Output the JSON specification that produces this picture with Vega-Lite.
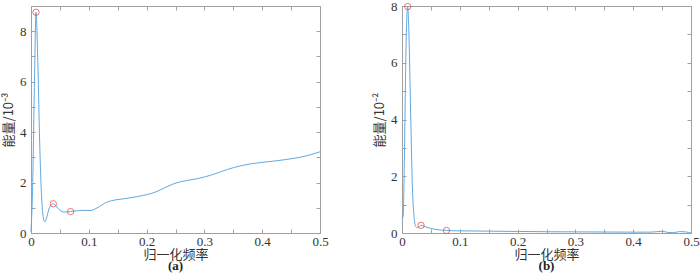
{
  "$schema": "https://vega.github.io/schema/vega-lite/v6.json",
  "padding": {"left": 2, "top": -1, "right": 5, "bottom": 0},
  "background": "white",
  "datasets": {
    "a": [
      {"f": 0, "e": 0.05}, {"f": 0.003, "e": 2.0}, {"f": 0.006, "e": 6.0}, {"f": 0.0087, "e": 8.75},
      {"f": 0.012, "e": 6.6}, {"f": 0.015, "e": 3.6}, {"f": 0.018, "e": 1.6}, {"f": 0.021, "e": 0.65},
      {"f": 0.024, "e": 0.44}, {"f": 0.027, "e": 0.6}, {"f": 0.031, "e": 0.95}, {"f": 0.035, "e": 1.12},
      {"f": 0.0386, "e": 1.16}, {"f": 0.043, "e": 1.08}, {"f": 0.05, "e": 0.9}, {"f": 0.057, "e": 0.83},
      {"f": 0.0686, "e": 0.85}, {"f": 0.082, "e": 0.89}, {"f": 0.09, "e": 0.9}, {"f": 0.102, "e": 0.89},
      {"f": 0.114, "e": 0.99}, {"f": 0.131, "e": 1.22}, {"f": 0.148, "e": 1.32}, {"f": 0.165, "e": 1.37},
      {"f": 0.183, "e": 1.44}, {"f": 0.2, "e": 1.52}, {"f": 0.215, "e": 1.62}, {"f": 0.232, "e": 1.8},
      {"f": 0.249, "e": 1.97}, {"f": 0.269, "e": 2.08}, {"f": 0.285, "e": 2.14}, {"f": 0.3, "e": 2.22},
      {"f": 0.32, "e": 2.36}, {"f": 0.34, "e": 2.52}, {"f": 0.36, "e": 2.65}, {"f": 0.38, "e": 2.74},
      {"f": 0.4, "e": 2.8}, {"f": 0.42, "e": 2.85}, {"f": 0.44, "e": 2.91}, {"f": 0.46, "e": 2.98},
      {"f": 0.48, "e": 3.08}, {"f": 0.5, "e": 3.22}
    ],
    "aPeaks": [
      {"f": 0.0087, "e": 8.75}, {"f": 0.0386, "e": 1.16}, {"f": 0.0686, "e": 0.85}
    ],
    "b": [
      {"f": 0, "e": 0.5}, {"f": 0.002, "e": 0.6}, {"f": 0.004, "e": 2.5}, {"f": 0.007, "e": 6.6},
      {"f": 0.0099, "e": 7.98}, {"f": 0.012, "e": 7.0}, {"f": 0.015, "e": 4.2}, {"f": 0.018, "e": 1.6},
      {"f": 0.021, "e": 0.55}, {"f": 0.024, "e": 0.22}, {"f": 0.027, "e": 0.19}, {"f": 0.033, "e": 0.27},
      {"f": 0.04, "e": 0.22}, {"f": 0.05, "e": 0.16}, {"f": 0.06, "e": 0.12}, {"f": 0.077, "e": 0.09},
      {"f": 0.1, "e": 0.075}, {"f": 0.15, "e": 0.065}, {"f": 0.2, "e": 0.055}, {"f": 0.25, "e": 0.045},
      {"f": 0.3, "e": 0.04}, {"f": 0.35, "e": 0.035}, {"f": 0.4, "e": 0.03}, {"f": 0.43, "e": 0.03},
      {"f": 0.45, "e": 0.06}, {"f": 0.46, "e": 0.02}, {"f": 0.47, "e": 0.01}, {"f": 0.48, "e": 0.05},
      {"f": 0.49, "e": 0.04}, {"f": 0.5, "e": 0.0}
    ],
    "bPeaks": [
      {"f": 0.0099, "e": 7.98}, {"f": 0.033, "e": 0.27}, {"f": 0.077, "e": 0.09}
    ]
  },
  "spacing": 44,
  "hconcat": [
    {
      "width": 289,
      "height": 227,
      "title": {"text": "(a)", "orient": "bottom"},
      "resolve": {"axis": {"x": "independent", "y": "independent"}},
      "layer": [
        {
          "data": {"name": "a"},
          "mark": {"type": "line", "color": "#62a8df", "strokeWidth": 1, "interpolate": "monotone"},
          "encoding": {
            "x": {"field": "f", "type": "quantitative", "scale": {"domain": [0, 0.5], "nice": false},
              "axis": {"title": "归一化频率", "values": [0,0.05,0.1,0.15,0.2,0.25,0.3,0.35,0.4,0.45,0.5],
                "labelPadding": 6, "titlePadding": 0,
                "labelExpr": "round(datum.value*100) % 10 == 0 ? format(datum.value, '.1~f') : ''"}},
            "y": {"field": "e", "type": "quantitative", "scale": {"domain": [0, 9], "nice": false},
              "axis": {"title": "能量/10⁻³", "values": [0,1,2,3,4,5,6,7,8,9], "labelPadding": 9,
                "labelExpr": "datum.value % 2 == 0 && datum.value < 9 ? format(datum.value, 'd') : ''"}}
          }
        },
        {
          "data": {"name": "aPeaks"},
          "mark": {"type": "point", "shape": "circle", "filled": false, "color": "#ee3b2e", "size": 40, "strokeWidth": 1},
          "encoding": {
            "x": {"field": "f", "type": "quantitative",
              "axis": {"title": null, "labels": false, "values": [0,0.05,0.1,0.15,0.2,0.25,0.3,0.35,0.4,0.45,0.5]}},
            "y": {"field": "e", "type": "quantitative",
              "axis": {"title": null, "labels": false, "values": [0,1,2,3,4,5,6,7,8,9]}}
          }
        }
      ]
    },
    {
      "width": 289,
      "height": 227,
      "title": {"text": "(b)", "orient": "bottom"},
      "resolve": {"axis": {"x": "independent", "y": "independent"}},
      "layer": [
        {
          "data": {"name": "b"},
          "mark": {"type": "line", "color": "#62a8df", "strokeWidth": 1, "interpolate": "monotone"},
          "encoding": {
            "x": {"field": "f", "type": "quantitative", "scale": {"domain": [0, 0.5], "nice": false},
              "axis": {"title": "归一化频率", "values": [0,0.05,0.1,0.15,0.2,0.25,0.3,0.35,0.4,0.45,0.5],
                "labelPadding": 6, "titlePadding": 0,
                "labelExpr": "round(datum.value*100) % 10 == 0 ? format(datum.value, '.1~f') : ''"}},
            "y": {"field": "e", "type": "quantitative", "scale": {"domain": [0, 8], "nice": false},
              "axis": {"title": "能量/10⁻²", "values": [0,1,2,3,4,5,6,7,8], "labelPadding": 9,
                "labelExpr": "datum.value % 2 == 0 ? format(datum.value, 'd') : ''"}}
          }
        },
        {
          "data": {"name": "bPeaks"},
          "mark": {"type": "point", "shape": "circle", "filled": false, "color": "#ee3b2e", "size": 40, "strokeWidth": 1},
          "encoding": {
            "x": {"field": "f", "type": "quantitative",
              "axis": {"title": null, "labels": false, "values": [0,0.05,0.1,0.15,0.2,0.25,0.3,0.35,0.4,0.45,0.5]}},
            "y": {"field": "e", "type": "quantitative",
              "axis": {"title": null, "labels": false, "values": [0,1,2,3,4,5,6,7,8]}}
          }
        }
      ]
    }
  ],
  "config": {
    "view": {"stroke": "#a0a0a0", "strokeWidth": 1},
    "axis": {
      "domain": false,
      "grid": false,
      "tickColor": "#a0a0a0",
      "tickSize": -4,
      "labelPadding": 5,
      "labelFont": "Liberation Serif",
      "labelFontSize": 13,
      "labelColor": "#333333",
      "labelFlush": false,
      "labelOverlap": false,
      "titleFont": "Noto Sans CJK SC",
      "titleFontSize": 13,
      "titleFontWeight": "normal",
      "titleColor": "#333333",
      "titlePadding": 4
    },
    "title": {"font": "Liberation Serif", "fontSize": 13, "fontWeight": "bold", "color": "#222222", "offset": -1}
  }
}
